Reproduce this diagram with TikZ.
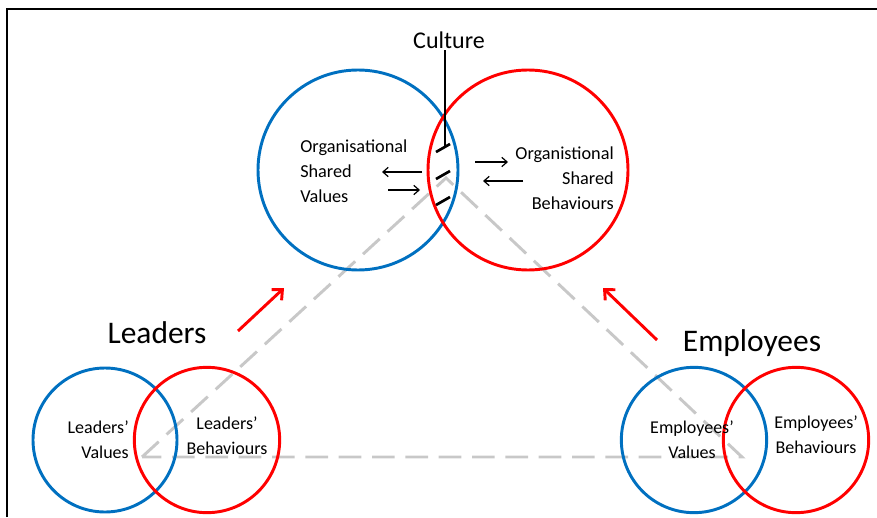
\documentclass[tikz,border=0pt]{standalone}
\usepackage{fontspec}
\setmainfont{Carlito}
\usetikzlibrary{arrows.meta}
\definecolor{valblue}{RGB}{0,112,192}
\definecolor{behred}{RGB}{255,0,0}
\definecolor{linkgrey}{RGB}{200,200,200}

\begin{document}
\begin{tikzpicture}[
			x=0.75pt,y=-0.75pt,
			valring/.style={
				circle,
				draw=valblue,
				line width=2.2pt,
				inner sep=0pt
			},
			behring/.style={
				circle,
				draw=behred,
				line width=2.2pt,
				inner sep=0pt
			},
			txt/.style={
				inner sep=0pt,
				font=\fontsize{13.5}{18.5}\selectfont
			},
			heading/.style={
				inner sep=0pt,
				font=\fontsize{23.6}{28}\selectfont
			},
			flow/.style={
				-{Straight Barb[length=4pt,width=7pt]},
				line width=0.9pt
			},
			push/.style={
				-{Straight Barb[length=6pt,width=11pt]},
				line width=2.2pt,
				draw=behred
			},
			link/.style={
				draw=linkgrey,
				line width=2.2pt,
				dash pattern=on 17pt off 8pt
			},
			hashmark/.style={line width=2pt},
			boxline/.style={line width=1.3pt}
			]
			
			\useasboundingbox (0,0) rectangle (877,517);
			
			% Frame
			\draw[boxline] (7,517) -- (7,9) -- (877,9);
			
			% Triangle between the value cores
			\coordinate (ldrcore) at (142,457);
			\coordinate (orgcore) at (446,178);
			\coordinate (empcore) at (742,457);
			\draw[link] (ldrcore) -- (orgcore) -- (empcore) -- cycle;
			
			% Organisation
			\node[valring,minimum size=150pt] (orgval) at (358,170) {};
			\node[behring,minimum size=150pt] (orgbeh) at (528,170) {};
			
			\node[txt,align=left,anchor=west,font=\fontsize{13.7}{18.75}\selectfont] (orgvaltxt) at (300,171) {%
				Organisational\\
				Shared\\
				Values
			};
			\node[txt,align=right,anchor=east,font=\fontsize{13.7}{18.75}\selectfont] (orgbehtxt) at (614,178) {%
				Organistional\\
				Shared\\
				Behaviours
			};
			
			% Culture
			\node[font=\fontsize{18}{22}\selectfont,inner sep=1pt] (culture) at (449,40) {Culture};
			\coordinate (tick1) at (445,146);
			\draw[line width=1pt] (culture.south -| tick1) -- (tick1);
			\foreach \y in {148,175,201}
				\draw[hashmark] (436,\y+4) -- (450,\y-4);
			
			% Exchange arrows
			\coordinate (vout) at (422,172);
			\coordinate (vin) at (388,190);
			\coordinate (bin) at (475,162);
			\coordinate (bout) at (523,181);
			\draw[flow] (vout) -- ++(-40,0);
			\draw[flow] (vin) -- ++(32,0);
			\draw[flow] (bin) -- ++(33,0);
			\draw[flow] (bout) -- ++(-40,0);
			
			% Leaders
			\node[heading] (leaders) at (157,333) {Leaders};
			\node[valring,minimum size=108pt] (ldrval) at (105,440) {};
			\node[behring,minimum size=109pt] (ldrbeh) at (207,440) {};
			\node[txt,align=right,anchor=east] (ldrvaltxt) at (129,440) {Leaders’\\Values};
			\node[txt,align=center] (ldrbehtxt) at (227,436) {Leaders’\\Behaviours};
			
			% Employees
			\node[heading] (employees) at (752,343) {Employees};
			\node[valring,minimum size=109pt] (empval) at (694,440) {};
			\node[behring,minimum size=109pt] (empbeh) at (796,440) {};
			\node[txt,align=center] (empvaltxt) at (692,440) {Employees’\\Values};
			\node[txt,align=center] (empbehtxt) at (816,435) {Employees’\\Behaviours};
			
			% Influence arrows
			\coordinate (ldrpush) at (238,331);
			\coordinate (emppush) at (657,340);
			\draw[push] (ldrpush) -- ++(46,-43);
			\draw[push] (emppush) -- ++(-54,-52);
			
		\end{tikzpicture}
\end{document}
